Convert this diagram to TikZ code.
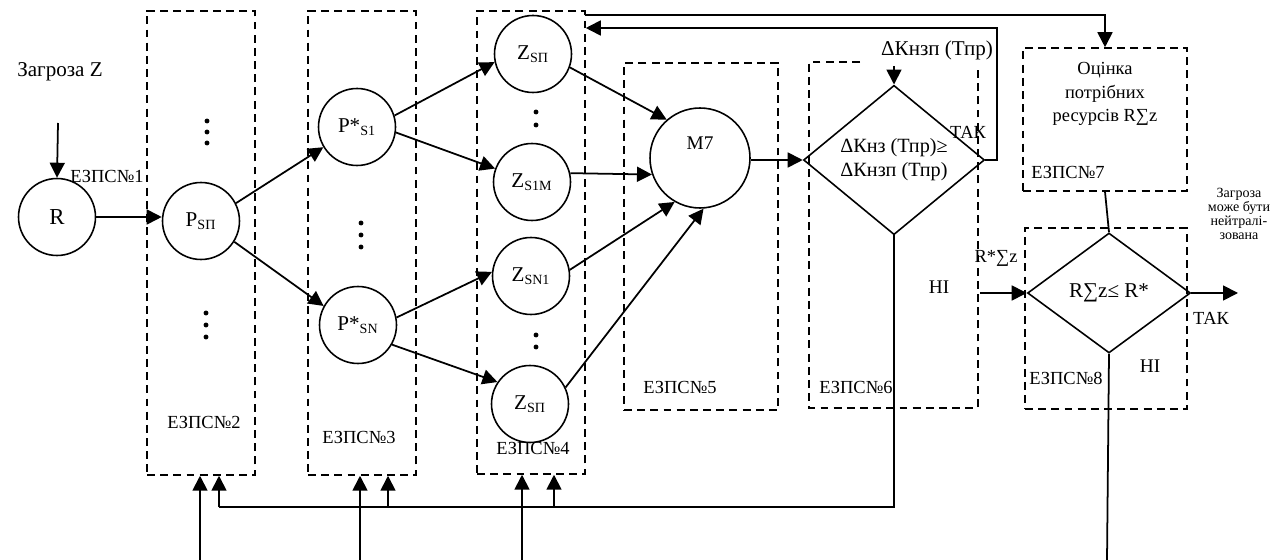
\documentclass[tikz,border=0pt]{standalone}
\usepackage{fontspec}
\setmainfont{Liberation Serif}
\usetikzlibrary{arrows.meta,shapes.geometric}
\newcommand{\idx}[1]{\textsubscript{#1}}

\begin{document}
\begin{tikzpicture}[
  x=0.02cm, y=-0.02cm,
  font=\fontsize{10.5}{13}\selectfont,
  circ/.style={draw, circle, line width=0.9pt, minimum size=1.54cm, inner sep=0pt, font=\fontsize{12}{14}\selectfont},
  zone/.style={draw, dash pattern=on 4.5pt off 3pt, line width=0.9pt, inner sep=0pt},
  cond/.style={draw, diamond, line width=0.9pt, inner sep=0pt, align=center, font=\fontsize{11.5}{13.5}\selectfont},
  arrow/.style={-{Triangle[length=3mm,width=3mm]}, line width=1pt},
  link/.style={line width=1pt},
  big/.style={font=\fontsize{12}{14}\selectfont}
]
  \useasboundingbox (0,0) rectangle (1281,560);

  \node[zone, minimum width=2.16cm, minimum height=9.28cm] (box2) at (201,243) {};
  \node[zone, minimum width=2.16cm, minimum height=9.28cm] (box3) at (362,243) {};
  \node[zone, minimum width=2.16cm, minimum height=9.26cm] (box4) at (531,242.5) {};
  \node[zone, minimum width=3.08cm, minimum height=6.94cm] (box5) at (701,236.5) {};
  \draw[zone] (860,62) -- (809,62) -- (809,408) -- (978,408) -- (978,70);
  \node[zone, minimum width=3.28cm, minimum height=2.86cm] (box7) at (1105,119.5) {};
  \node[zone, minimum width=3.24cm, minimum height=3.62cm] (box8) at (1106,318.5) {};

  \node[big] (threat) at (60,72) {Загроза Z};
  \node (lbl1) at (107,176) {ЕЗПС№1};
  \node (lbl2) at (204,422) {ЕЗПС№2};
  \node (lbl3) at (359,437) {ЕЗПС№3};
  \node (lbl4) at (533,448) {ЕЗПС№4};
  \node (lbl5) at (680,387) {ЕЗПС№5};
  \node (lbl6) at (856,387) {ЕЗПС№6};
  \node (lbl7) at (1068,172) {ЕЗПС№7};
  \node (lbl8) at (1066,378) {ЕЗПС№8};

  \node[circ, font=\fontsize{13}{15}\selectfont] (r) at (57,217) {R};
  \node[circ] (psp) at (201,221) {P\idx{SП}};
  \node[circ] (ps1) at (357,127) {P*\idx{S1}};
  \node[circ] (psn) at (358,325) {P*\idx{SN}};
  \node[circ] (zt) at (533,54) {Z\idx{SП}};
  \node[circ] (zs1m) at (532,182) {Z\idx{S1M}};
  \node[circ] (zsn1) at (531,276) {Z\idx{SN1}};
  \node[circ] (zb) at (530,404) {Z\idx{SП}};
  \node[circ, minimum size=2cm, font=\fontsize{11}{13}\selectfont] (m7) at (700,158) {\raisebox{0.6cm}{M7}};

  \foreach \x/\y in {207/121, 207/132, 207/143, 206/313, 206/325, 206/337,
                     361/223, 361/235, 361/247, 536/112, 536/125, 536/335, 536/347}
    \fill (\x,\y) circle[radius=1.4pt];

  \node[cond, minimum width=3.62cm, minimum height=2.74cm] (d1) at (894,160) {ΔКнз (Тпр)≥\\ΔКнзп (Тпр)};
  \node[big] (dk) at (937,50) {ΔКнзп (Тпр)};
  \node (yes1) at (968,132) {ТАК};
  \node[font=\fontsize{11}{13}\selectfont] (no1) at (939,287) {НІ};

  \node[align=center, font=\fontsize{10.5}{13.3}\selectfont] (est) at (1105,94) {Оцінка\\потрібних\\ресурсів R∑z};
  \node[cond, minimum width=3.26cm, minimum height=2.4cm, font=\fontsize{12}{14}\selectfont] (d2) at (1109,293) {R∑z≤ R*};
  \node (rs) at (996,258) {R*∑z};
  \node (yes2) at (1211,318) {ТАК};
  \node[font=\fontsize{11}{13}\selectfont] (no2) at (1150,366) {НІ};
  \node[align=center, font=\fontsize{8}{8}\selectfont] (done) at (1239,214) {Загроза\\може бути\\нейтралі-\\зована};

  \coordinate (zin) at (58,123);
  \coordinate (c1) at (997,28);
  \coordinate (t7) at (585,15);
  \coordinate (rin) at (980,293);
  \coordinate (out) at (1238,293);
  \coordinate (end8) at (1107,560);
  \coordinate (fb2) at (219,507);
  \coordinate (fb3) at (388,507);
  \coordinate (fb4) at (554,507);
  \coordinate (in2) at (200,560);
  \coordinate (in3) at (360,560);
  \coordinate (in4) at (522,560);

  \draw[arrow] (zin) -- (r.north);
  \draw[arrow] (r.east) -- (r.east -| psp.west);
  \draw[arrow] (psp.27) -- (ps1.211);
  \draw[arrow] (psp.-32) -- (psn.151);
  \draw[arrow] (ps1.17) -- (zt.192);
  \draw[arrow] (ps1.-8) -- (zs1m.160);
  \draw[arrow] (psn.11) -- (zsn1.174);
  \draw[arrow] (psn.-30) -- (zb.146);
  \draw[arrow] (zt.-20) -- (m7.131);
  \draw[arrow] (zs1m.13) -- (m7.199);
  \draw[arrow] (zsn1.9) -- (m7.240);
  \draw[arrow] (zb.25) -- (m7.274);
  \draw[arrow] (m7.east |- d1.west) -- (d1.west);
  \draw[arrow] (dk.south -| d1.north) -- (d1.north);
  \draw[arrow] (d1.east) -| (c1) -- (c1 -| box4.east);
  \draw[arrow] (t7) -| (box7.north);
  \draw[link] (box7.south) -- (d2.north);
  \draw[arrow] (rin) -- (d2.west);
  \draw[arrow] (d2.east) -- (out);
  \draw[link] (d2.south) -- (end8);
  \draw[link] (d1.south) |- (fb2);
  \foreach \b in {2,3,4} {
    \draw[arrow] (fb\b) -- (fb\b |- box\b.south);
    \draw[arrow] (in\b) -- (in\b |- box\b.south);
  }
\end{tikzpicture}
\end{document}
